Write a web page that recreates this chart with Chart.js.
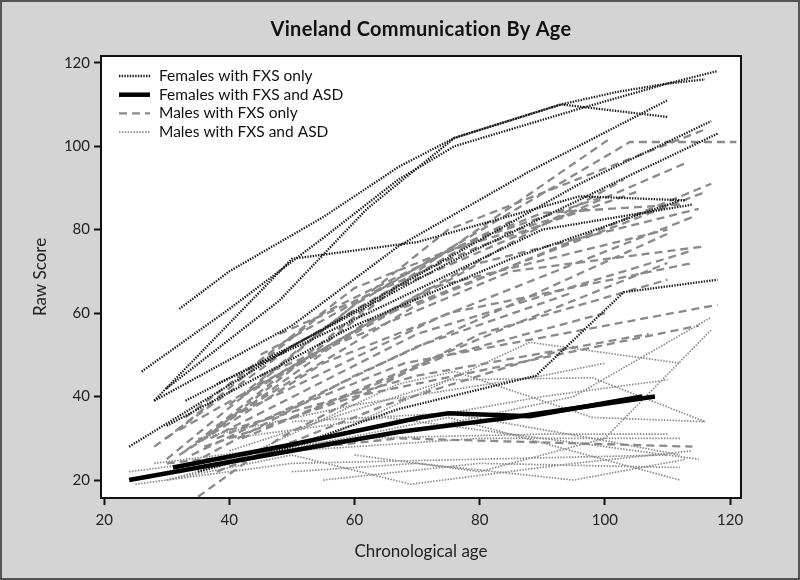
<!DOCTYPE html>
<html lang="en">
<head>
  <meta charset="UTF-8">
  <title>Vineland Communication By Age</title>
  <script src="https://cdn.jsdelivr.net/npm/chart.js"></script>
  <style>
    html, body { margin: 0; padding: 0; background: #d4d4d4; }
    #wrap { width: 800px; height: 580px; }
  </style>
</head>
<body>
  <div id="wrap"><canvas id="vinelandChart" width="800" height="580"></canvas></div>

  <script>
    // tick labels
    const xTicks = [20, 40, 60, 80, 100, 120];
    const yTicks = [20, 40, 60, 80, 100, 120];

    const groupNames = ['Females with FXS only', 'Females with FXS and ASD', 'Males with FXS only', 'Males with FXS and ASD'];

    // one trajectory per child: [age, raw score]
    const femalesFxsOnly = [
      [[32, 61], [40, 70], [55, 83], [67, 95], [76, 102], [93, 110], [102, 113], [110, 115], [118, 118]],
      [[26, 46], [40, 61], [55, 78], [67, 92], [76, 100], [96, 109], [110, 115], [116, 116]],
      [[28, 39], [50, 73], [70, 77], [96, 88], [113, 87]],
      [[30, 42], [48, 63], [62, 85], [76, 102], [93, 110], [110, 107]],
      [[24, 28], [50, 52], [70, 69], [96, 91], [117, 106]],
      [[28, 39], [50, 57], [67, 76], [88, 94], [110, 111]],
      [[33, 39], [55, 56], [75, 72], [104, 93], [118, 103]],
      [[35, 22], [50, 28], [67, 37], [89, 45], [103, 65], [118, 68]],
      [[30, 33], [60, 57], [85, 73], [112, 87]],
      [[38, 43], [65, 62], [90, 80], [114, 86]]
    ];

    const femalesFxsAsd = [
      [[24, 20], [50, 27], [67, 31.5], [85, 35], [108, 40]],
      [[31, 23], [50, 28.5], [70.5, 35], [75, 36], [88, 35.3], [106, 40]]
    ];

    const malesFxsOnly = [
      [[30, 25], [60, 62], [104, 101], [121, 101]],
      [[36, 30], [70, 70], [101, 102]],
      [[40, 38], [75, 80], [116, 104]],
      [[33, 27], [65, 65], [113, 96]],
      [[38, 33], [70, 62], [117, 91]],
      [[35, 29], [62, 58], [116, 89]],
      [[42, 40], [80, 72], [115, 85]],
      [[32, 26], [55, 48], [114, 83]],
      [[45, 45], [85, 70], [116, 76]],
      [[37, 30], [70, 55], [114, 75]],
      [[34, 24], [60, 45], [110, 79]],
      [[40, 35], [75, 60], [114, 72]],
      [[38, 30], [68, 48], [118, 62]],
      [[36, 28], [60, 40], [115, 57]],
      [[40, 32], [70, 45], [107, 55]],
      [[30, 24], [67, 30], [114, 28]],
      [[35, 16], [48, 30], [80, 55], [110, 68]],
      [[28, 28], [50, 52], [80, 78], [100, 88]],
      [[33, 35], [60, 66], [90, 84], [112, 86]],
      [[30, 30], [55, 60], [85, 82]],
      [[45, 50], [75, 75], [97, 85]],
      [[34, 26], [70, 52], [95, 65]],
      [[42, 30], [75, 50], [100, 60]],
      [[50, 35], [85, 57], [110, 72]],
      [[38, 22], [65, 38], [95, 52]],
      [[44, 42], [72, 66], [110, 80]],
      [[32, 32], [58, 54], [103, 92]],
      [[48, 55], [80, 76], [105, 89]]
    ];

    const malesFxsAsd = [
      [[24, 22], [50, 27], [80, 30], [112, 30]],
      [[25, 19], [50, 24], [80, 25], [110, 26]],
      [[30, 20], [50, 26], [69, 19], [95, 24], [114, 27]],
      [[40, 24], [67, 43], [76, 46], [98, 35], [116, 34]],
      [[55, 30], [88, 53], [112, 48]],
      [[40, 27], [75, 44], [98, 44.5], [116, 34]],
      [[50, 22], [70, 24], [95, 20], [113, 25]],
      [[28, 24], [60, 30], [90, 31], [110, 31]],
      [[45, 26], [75, 35], [112, 20]],
      [[60, 26], [80, 22], [100, 30], [117, 56]],
      [[70, 32], [95, 40], [117, 59]],
      [[35, 30], [60, 38], [90, 45], [100, 48]],
      [[55, 20], [80, 24], [112, 23]],
      [[40, 30], [65, 35], [100, 28], [115, 25]],
      [[50, 34], [75, 36], [98, 30], [112, 26]],
      [[30, 20], [60, 32], [90, 40], [110, 44]]
    ];

    const groupStyles = [
      { borderColor: '#1a1a1a', borderWidth: 2.3, borderDash: [1.4, 1.3], order: 1 },
      { borderColor: '#000000', borderWidth: 4.5, borderDash: [], order: 0 },
      { borderColor: '#8a8a8a', borderWidth: 2.3, borderDash: [8, 5], order: 3 },
      { borderColor: '#8a8a8a', borderWidth: 1.7, borderDash: [1.5, 1.4], order: 2 }
    ];

    const groups = [femalesFxsOnly, femalesFxsAsd, malesFxsOnly, malesFxsAsd];
    const datasets = [];
    groups.forEach((group, g) => {
      group.forEach(traj => {
        datasets.push(Object.assign({
          label: groupNames[g],
          data: traj.map(p => ({ x: p[0], y: p[1] })),
          pointRadius: 0,
          fill: false,
          tension: 0
        }, groupStyles[g]));
      });
    });

    const fontFamily = 'Lato, "Open Sans", sans-serif';

    // frame, title and in-plot legend
    const decorations = {
      id: 'decorations',
      beforeDraw(chart) {
        const { ctx, chartArea: a } = chart;
        ctx.save();
        ctx.fillStyle = '#d4d4d4';
        ctx.fillRect(0, 0, chart.width, chart.height);
        ctx.fillStyle = '#ffffff';
        ctx.fillRect(a.left, a.top, a.right - a.left, a.bottom - a.top);
        ctx.restore();
      },
      afterDraw(chart) {
        const { ctx, chartArea: a } = chart;
        ctx.save();
        ctx.strokeStyle = '#111';
        ctx.lineWidth = 2;
        ctx.setLineDash([]);
        ctx.strokeRect(a.left, a.top, a.right - a.left, a.bottom - a.top);
        ctx.strokeStyle = '#555';
        ctx.strokeRect(1, 1, chart.width - 2, chart.height - 2);

        ctx.fillStyle = '#111';
        ctx.font = 'bold 20px ' + fontFamily;
        ctx.letterSpacing = '0.3px';
        ctx.textAlign = 'center';
        ctx.textBaseline = 'middle';
        ctx.fillText('Vineland Communication By Age', (a.left + a.right) / 2, 30);
        ctx.letterSpacing = '0px';

        ctx.font = '15.5px ' + fontFamily;
        ctx.textAlign = 'left';
        groupNames.forEach((name, i) => {
          const y = a.top + 20 + i * 18.7;
          const s = groupStyles[i];
          ctx.beginPath();
          ctx.strokeStyle = s.borderColor;
          ctx.lineWidth = s.borderWidth;
          ctx.setLineDash(s.borderDash);
          ctx.moveTo(a.left + 18, y);
          ctx.lineTo(a.left + 49, y);
          ctx.stroke();
          ctx.fillStyle = '#111';
          ctx.fillText(name, a.left + 58, y);
        });
        ctx.restore();
      }
    };

    const ctx = document.getElementById('vinelandChart').getContext('2d');
    new Chart(ctx, {
      type: 'line',
      data: { datasets: datasets },
      options: {
        responsive: false,
        animation: false,
        layout: { padding: { left: 0, right: 59, top: 56, bottom: 0 } },
        plugins: { legend: { display: false }, tooltip: { enabled: false } },
        scales: {
          x: {
            type: 'linear',
            min: 19.5,
            max: 121.75,
            afterBuildTicks: s => { s.ticks = xTicks.map(v => ({ value: v })); },
            afterFit: s => { s.height = 82; },
            grid: { drawOnChartArea: false, drawTicks: true, tickLength: 7, tickWidth: 2, tickColor: '#111' },
            border: { display: true, color: '#111', width: 2 },
            ticks: { color: '#222', padding: 6, font: { family: fontFamily, size: 15 } },
            title: { display: true, text: 'Chronological age', color: '#222', padding: { bottom: 18 }, font: { family: fontFamily, size: 17 } }
          },
          y: {
            type: 'linear',
            min: 15.7,
            max: 121.6,
            afterBuildTicks: s => { s.ticks = yTicks.map(v => ({ value: v })); },
            afterFit: s => { s.width = 101; },
            grid: { drawOnChartArea: false, drawTicks: true, tickLength: 7, tickWidth: 2, tickColor: '#111' },
            border: { display: true, color: '#111', width: 2 },
            ticks: { color: '#222', padding: 4, font: { family: fontFamily, size: 15 } },
            title: { display: true, text: 'Raw Score', color: '#222', padding: { top: 30 }, font: { family: fontFamily, size: 17 } }
          }
        }
      },
      plugins: [decorations]
    });
  </script>
</body>
</html>
